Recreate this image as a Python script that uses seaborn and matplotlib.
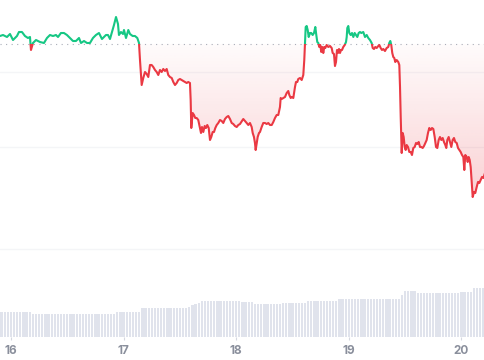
import numpy as np
import matplotlib
matplotlib.use('Agg')
import matplotlib.pyplot as plt
import matplotlib.patches as mpatches
from matplotlib.path import Path
from matplotlib.colors import to_rgb
import seaborn as sns

# price trace: hours since the 16th 00:00, price
hours = [
    -2.34, -1.70, -0.85, -0.21, 0.43, 1.28, 1.70, 2.34, 2.98, 3.62,
    4.05, 4.26, 4.69, 5.33, 6.18, 7.03, 7.67, 8.31, 8.95, 9.59,
    10.02, 10.65, 11.29, 11.93, 12.57, 13.21, 13.85, 14.49, 14.92, 15.56,
    16.20, 16.83, 17.47, 18.11, 18.75, 19.39, 19.82, 20.24, 20.67, 21.10,
    21.52, 21.95, 22.38, 22.80, 23.01, 23.44, 23.87,
    24.08, 24.51, 25.00, 25.36, 25.93, 26.42, 26.92, 27.28, 27.49, 27.85,
    28.19, 28.56, 28.92, 29.26, 29.62, 29.98, 30.32, 30.69, 31.05, 31.39,
    31.75, 32.11, 32.45, 32.82, 33.18, 33.52, 33.88, 34.25, 34.59, 34.95,
    35.31, 35.65, 36.01, 36.38, 36.72, 37.08, 37.44, 37.78, 38.14, 38.29,
    38.42, 38.72, 39.00, 39.27, 39.57, 39.91, 40.28, 40.49, 40.70, 40.98,
    41.28, 41.55, 41.83, 42.13, 42.41, 42.68, 42.98, 43.26, 43.54, 43.84,
    44.18, 44.54, 44.90, 45.24, 45.60, 45.97, 46.31, 46.67, 47.03, 47.37,
    47.73, 48.10, 48.44, 48.80,
    49.50, 49.87, 50.23, 50.57, 50.93, 51.29, 51.51, 51.78, 51.99, 52.14,
    52.36, 52.57, 52.85, 53.06, 53.42, 53.76, 54.13, 54.49, 54.83, 55.19,
    55.56, 55.90, 56.26, 56.62, 56.96, 57.32, 57.47, 57.69, 58.03, 58.39,
    58.75, 59.09, 59.31, 59.61, 59.82, 60.16, 60.52, 60.73, 61.01, 61.22,
    61.59, 61.95, 62.29, 62.50, 62.65, 62.80, 63.01, 63.23, 63.44, 63.72,
    63.99, 64.29, 64.57, 64.85, 65.06, 65.27, 65.49, 65.70, 65.91, 66.12,
    66.34, 66.55, 66.76, 66.98, 67.27, 67.62, 67.98, 68.34, 68.55, 68.83,
    69.04, 69.26, 69.47, 69.68, 69.90, 70.11, 70.32, 70.54, 70.81, 71.11,
    71.39, 71.54, 71.67, 71.88, 72.09, 72.39, 72.67, 72.95, 73.24, 73.52,
    73.80, 74.09, 74.37, 74.65,
    75.07, 75.44, 75.80, 76.14, 76.50, 76.86, 77.08, 77.35, 77.63, 77.93,
    78.27, 78.49, 78.78, 79.06, 79.34, 79.70, 80.06, 80.40, 80.61, 80.83,
    81.04, 81.25, 81.47, 81.68, 81.89, 82.19, 82.53, 82.75, 82.90, 83.05,
    83.26, 83.47, 83.68, 83.90, 84.11, 84.32, 84.60, 84.88, 85.18, 85.45,
    85.73, 86.03, 86.31, 86.58, 86.88, 87.16, 87.44, 87.73, 88.01, 88.29,
    88.58, 88.86, 89.14, 89.44, 89.72, 90.00, 90.29, 90.57, 90.85, 91.14,
    91.42, 91.70, 91.99, 92.27, 92.55, 92.76, 92.98, 93.27, 93.55, 93.83,
    94.12, 94.40, 94.68, 94.98, 95.26, 95.54, 95.83, 96.11, 96.39, 96.60,
    96.81, 97.11, 97.32, 97.53, 97.75, 97.96, 98.17, 98.39, 98.67, 98.94,
    99.24, 99.52, 99.80, 100.09, 100.37, 100.66, 101.01,
]
price = [
    29640, 29650, 29630, 29660, 29600, 29640, 29680, 29680, 29640, 29620,
    29630, 29500, 29570, 29600, 29580, 29570, 29620, 29650, 29640, 29650,
    29630, 29670, 29670, 29650, 29620, 29590, 29590, 29620, 29570, 29590,
    29570, 29570, 29620, 29650, 29670, 29610, 29630, 29650, 29650, 29610,
    29680, 29750, 29830, 29760, 29650, 29680, 29660,
    29700, 29620, 29700, 29660, 29640, 29640, 29620, 29570, 29400, 29150,
    29220, 29280, 29260, 29230, 29350, 29350, 29330, 29300, 29280, 29250,
    29300, 29280, 29310, 29290, 29310, 29250, 29230, 29220, 29180, 29150,
    29170, 29200, 29210, 29200, 29190, 29180, 29170, 29180, 29170, 29000,
    28720, 28870, 28850, 28820, 28820, 28800, 28720, 28670, 28730, 28680,
    28740, 28720, 28750, 28720, 28600, 28630, 28680, 28680, 28720, 28750,
    28770, 28800, 28790, 28770, 28810, 28830, 28840, 28810, 28770, 28760,
    28740, 28730, 28750, 28760,
    28810, 28790, 28770, 28750, 28770, 28730, 28670, 28630, 28570, 28500,
    28570, 28630, 28670, 28680, 28730, 28770, 28770, 28760, 28770, 28750,
    28750, 28780, 28820, 28850, 28850, 28930, 29020, 29010, 29020, 29030,
    29070, 29090, 29050, 29020, 29030, 29020, 29130, 29180, 29180, 29210,
    29220, 29200, 29250, 29400, 29570, 29730, 29740, 29700, 29630, 29670,
    29670, 29650, 29670, 29730, 29650, 29580, 29570, 29530, 29550, 29480,
    29530, 29470, 29530, 29520, 29550, 29530, 29540, 29520, 29470, 29460,
    29340, 29380, 29500, 29470, 29510, 29470, 29500, 29500, 29530, 29550,
    29580, 29630, 29720, 29740, 29670, 29650, 29670, 29630, 29670, 29650,
    29630, 29670, 29680, 29670,
    29680, 29630, 29650, 29620, 29600, 29570, 29520, 29510, 29530, 29520,
    29540, 29550, 29520, 29500, 29510, 29490, 29520, 29530, 29570, 29590,
    29550, 29470, 29430, 29420, 29380, 29400, 29380, 29350, 29130, 28830,
    28470, 28670, 28630, 28530, 28500, 28550, 28530, 28480, 28480, 28450,
    28520, 28530, 28570, 28560, 28580, 28530, 28530, 28520, 28540, 28570,
    28600, 28670, 28720, 28700, 28720, 28710, 28630, 28530, 28520, 28600,
    28630, 28600, 28620, 28580, 28550, 28520, 28600, 28630, 28580, 28530,
    28600, 28620, 28580, 28570, 28520, 28500, 28480, 28450, 28430, 28300,
    28450, 28430, 28380, 28430, 28400, 28330, 28180, 28030, 28080, 28070,
    28130, 28180, 28170, 28200, 28230, 28220, 28270,
]
open_price = 29560

# volume bars, one every 40 minutes from 22:00 on the 15th
vol_start = -2.0
vol_step = 2 / 3
volume = [
    2.5, 2.5, 2.5, 2.5, 2.5, 2.5, 2.5, 2.5, 2.5, 2.5,
    2.3, 2.3, 2.3, 2.3, 2.3, 2.3, 2.3, 2.3, 2.3, 2.3,
    2.3, 2.3, 2.3, 2.3, 2.3, 2.3, 2.3, 2.3, 2.3, 2.3,
    2.3, 2.3, 2.3, 2.3, 2.3, 2.3, 2.3,
    2.55, 2.55, 2.55, 2.55, 2.55, 2.55, 2.55, 2.55,
    2.87, 2.87, 2.87, 2.87, 2.87, 2.87, 2.87, 2.87, 2.87, 2.87,
    2.87, 2.87, 2.87, 2.87, 2.87,
    3.0, 3.2, 3.35, 3.45,
    3.63, 3.63, 3.63, 3.63, 3.63, 3.63, 3.63, 3.63, 3.63, 3.63,
    3.63, 3.63, 3.63,
    3.53, 3.53, 3.53, 3.53,
    3.3, 3.3, 3.3, 3.3, 3.3, 3.3, 3.3, 3.3, 3.3,
    3.43, 3.43, 3.43, 3.43, 3.43, 3.43, 3.43, 3.43,
    3.6, 3.6, 3.6, 3.6, 3.6, 3.6, 3.6, 3.6, 3.6, 3.6,
    3.77, 3.77, 3.77, 3.77, 3.77, 3.77, 3.77, 3.77, 3.77, 3.77,
    3.77, 3.77, 3.77, 3.77, 3.77, 3.77, 3.77, 3.77, 3.77, 3.77,
    4.2,
    4.63, 4.63, 4.63, 4.63,
    4.43, 4.43, 4.43, 4.43, 4.43, 4.43, 4.43, 4.43, 4.43, 4.43,
    4.43, 4.43, 4.43, 4.43,
    4.5, 4.5, 4.5, 4.5,
    4.87, 4.87, 4.87, 4.87,
]

price_grid = [29285, 28527]
volume_grid = [8.77]
day_ticks = [0, 24, 48, 72, 96]
day_labels = ['16', '17', '18', '19', '20']

sns.set_theme(style='white')
plt.rcParams['font.family'] = ['Inter', 'DejaVu Sans']

green = '#16c784'
red = '#ea3943'
grid_col = '#f4f5f7'

fig = plt.figure(figsize=(4.85, 3.6), dpi=100)
ax = fig.add_axes([0, 23 / 360, 1, 337 / 360])
ax2 = ax.twinx()

# volume
vol_t = vol_start + vol_step * np.arange(len(volume))
ax.bar(vol_t, volume, width=vol_step * 0.72, color='#e0e3ec', linewidth=0, zorder=2)
ax.set_ylim(0, 33.7)
ax.set_yticks(volume_grid)
ax.grid(axis='y', color=grid_col, lw=1, zorder=0)
ax.grid(axis='x', visible=False)

# red gradient between line and open price
r, g, b = to_rgb(red)
grad = np.zeros((256, 1, 4))
grad[..., 0], grad[..., 1], grad[..., 2] = r, g, b
grad[:, 0, 3] = np.linspace(0.02, 0.24, 256)
im = ax2.imshow(grad, extent=[hours[0], hours[-1], 27950, open_price],
                aspect='auto', origin='upper', zorder=1)
pr = np.array(price)
poly = ax2.fill_between(hours, price, open_price, where=pr < open_price,
                        interpolate=True, facecolor='none', lw=0)
clip = Path.make_compound_path(*poly.get_paths())
im.set_clip_path(clip, ax2.transData)
poly.remove()

ax2.axhline(open_price, color='#a9adb8', lw=0.8, ls=(0, (1, 4)), zorder=2)

# price line, green above the open, red below
sns.lineplot(x=hours, y=price, ax=ax2, color=green, lw=1.5, sort=False, estimator=None, zorder=3)
up = mpatches.Rectangle((hours[0] - 10, open_price), 200, 5000, transform=ax2.transData)
ax2.lines[-1].set_clip_path(up)
sns.lineplot(x=hours, y=price, ax=ax2, color=red, lw=1.5, sort=False, estimator=None, zorder=3)
down = mpatches.Rectangle((hours[0] - 10, open_price - 5000), 200, 5000, transform=ax2.transData)
ax2.lines[-1].set_clip_path(down)

ax2.set_ylim(26630, 30000)
ax2.set_yticks(price_grid)
ax2.grid(axis='y', color=grid_col, lw=1)
ax2.grid(axis='x', visible=False)
ax2.set_xlabel('')
ax2.set_ylabel('')
ax.set_xlim(hours[0], hours[-1])

ax.set_xticks(day_ticks, day_labels)
ax.tick_params(axis='x', bottom=True, length=2.5, width=0.8, color='#d5d8e0',
               pad=3.5, labelsize=8.5, labelcolor='#8a8f9c')
for lab in ax.get_xticklabels():
    lab.set_fontweight('bold')
ax.tick_params(axis='y', left=False, right=False, labelleft=False, labelright=False)
ax2.tick_params(axis='y', left=False, right=False, labelleft=False, labelright=False)
for a in (ax, ax2):
    for s in a.spines.values():
        s.set_visible(False)

fig.savefig('out.png', dpi=100)
